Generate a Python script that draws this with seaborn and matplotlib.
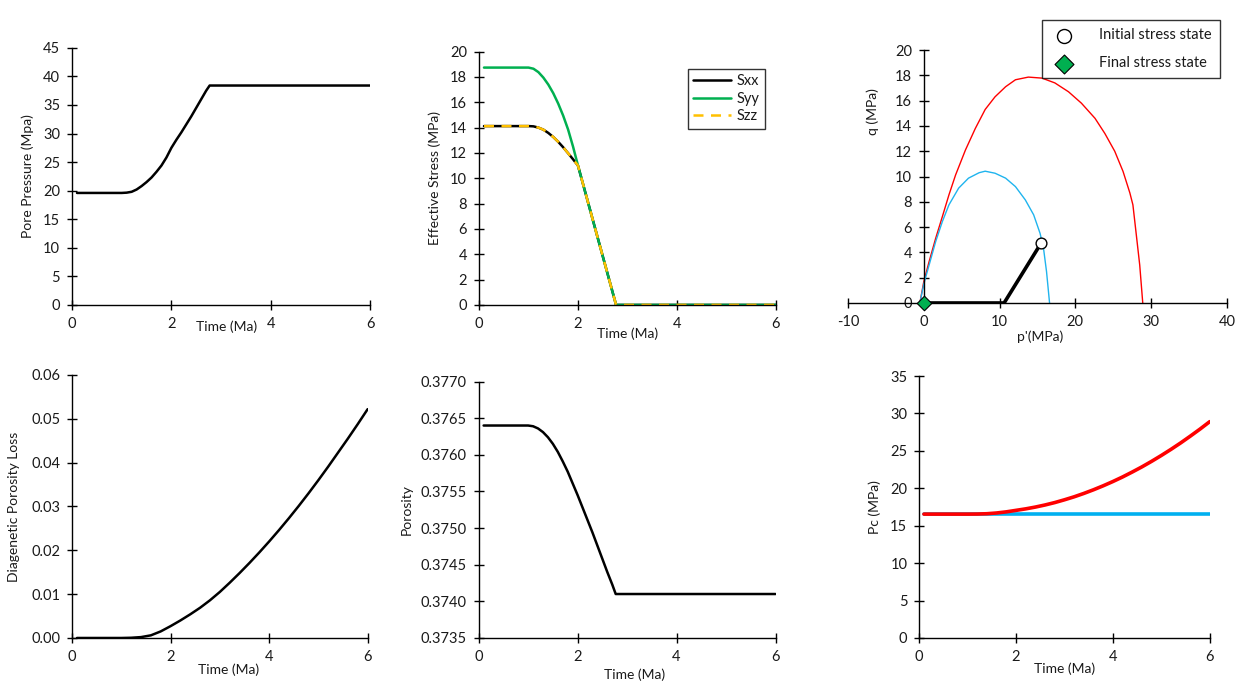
import numpy as np
import pandas as pd
import seaborn as sns
import matplotlib.pyplot as plt
from matplotlib.ticker import FormatStrFormatter

# ---------------- data ----------------
t_pp = [0.1, 0.5, 1.0, 1.1, 1.2, 1.3, 1.4, 1.5, 1.6, 1.7, 1.8, 1.9, 2.0, 2.1, 2.2,
        2.3, 2.4, 2.5, 2.6, 2.7, 2.77, 3.0, 4.0, 5.0, 6.0]
pore_pressure = [19.6, 19.6, 19.6, 19.65, 19.8, 20.2, 20.8, 21.5, 22.3, 23.3, 24.4,
                 25.8, 27.5, 28.9, 30.2, 31.6, 33.0, 34.5, 36.0, 37.5, 38.4, 38.4,
                 38.4, 38.4, 38.4]

t_es = [0.1, 0.5, 1.0, 1.1, 1.2, 1.3, 1.4, 1.5, 1.6, 1.7, 1.8, 1.9, 2.0, 2.2, 2.4,
        2.6, 2.77, 3.0, 4.0, 5.0, 6.0]
sxx = [14.12, 14.12, 14.12, 14.1, 14.0, 13.84, 13.58, 13.26, 12.88, 12.45, 11.98,
       11.5, 11.0, 8.14, 5.28, 2.43, 0.0, 0.0, 0.0, 0.0, 0.0]
syy = [18.74, 18.74, 18.74, 18.65, 18.38, 17.95, 17.4, 16.72, 15.9, 14.95, 13.85,
       12.5, 11.0, 8.14, 5.28, 2.43, 0.0, 0.0, 0.0, 0.0, 0.0]
szz = [14.12, 14.12, 14.12, 14.1, 14.0, 13.84, 13.58, 13.26, 12.88, 12.45, 11.98,
       11.5, 11.0, 8.14, 5.28, 2.43, 0.0, 0.0, 0.0, 0.0, 0.0]

p_red = [-0.52, 0.0, 0.7, 1.57, 2.45, 3.32, 4.2, 5.5, 6.8, 8.1, 9.4, 10.8, 12.1,
         13.8, 15.6, 17.3, 19.1, 20.8, 22.6, 23.9, 25.2, 26.3, 27.2, 27.6, 28.0,
         28.5, 28.9]
q_red = [0.0, 1.69, 3.27, 5.12, 6.83, 8.55, 10.13, 12.1, 13.8, 15.3, 16.3, 17.1,
         17.65, 17.86, 17.78, 17.4, 16.7, 15.8, 14.6, 13.4, 12.0, 10.4, 8.7, 7.76,
         5.65, 3.0, 0.0]
p_blue = [-0.52, 0.0, 0.7, 1.57, 2.45, 3.32, 4.6, 5.9, 7.3, 8.1, 9.4, 10.8, 12.1,
          13.4, 14.5, 15.35, 15.8, 16.2, 16.6]
q_blue = [0.0, 1.5, 3.0, 4.86, 6.44, 7.76, 9.08, 9.87, 10.3, 10.42, 10.26, 9.87,
          9.2, 8.15, 6.97, 5.5, 4.33, 2.48, 0.0]
p_path = [0.0, 10.6, 15.5]
q_path = [0.0, 0.0, 4.75]
p_initial, q_initial = [15.5], [4.75]
p_final, q_final = [0.0], [0.0]

t_dpl = [0.1, 0.5, 1.0, 1.2, 1.4, 1.6, 1.8, 2.0, 2.2, 2.4, 2.6, 2.8, 3.0, 3.2, 3.4,
         3.6, 3.8, 4.0, 4.2, 4.4, 4.6, 4.8, 5.0, 5.2, 5.4, 5.6, 5.8, 6.0]
diag_loss = [0.0, 0.0, 0.0, 0.00005, 0.0002, 0.0006, 0.0015, 0.0027, 0.0040, 0.0054,
             0.0069, 0.0086, 0.0105, 0.0126, 0.0148, 0.0171, 0.0195, 0.0220, 0.0246,
             0.0273, 0.0301, 0.0330, 0.0360, 0.0391, 0.0423, 0.0455, 0.0488, 0.0522]

t_por = [0.1, 0.5, 1.0, 1.1, 1.2, 1.3, 1.4, 1.5, 1.6, 1.7, 1.8, 1.9, 2.0, 2.1, 2.2,
         2.3, 2.4, 2.5, 2.6, 2.7, 2.77, 3.0, 4.0, 5.0, 6.0]
porosity = [0.3764, 0.3764, 0.3764, 0.37639, 0.37636, 0.37631, 0.37624, 0.37615,
            0.37604, 0.37591, 0.37577, 0.37561, 0.37545, 0.37528, 0.37511, 0.37494,
            0.37476, 0.37458, 0.37440, 0.37423, 0.3741, 0.3741, 0.3741, 0.3741, 0.3741]

t_pc = [0.1, 0.5, 1.0, 1.2, 1.4, 1.6, 1.8, 2.0, 2.2, 2.4, 2.6, 2.8, 3.0, 3.2, 3.4,
        3.6, 3.8, 4.0, 4.2, 4.4, 4.6, 4.8, 5.0, 5.2, 5.4, 5.6, 5.8, 6.0]
pc_red = [16.55, 16.55, 16.55, 16.56, 16.6, 16.7, 16.85, 17.05, 17.25, 17.49, 17.77,
          18.09, 18.46, 18.86, 19.31, 19.80, 20.33, 20.90, 21.51, 22.17, 22.86, 23.60,
          24.38, 25.20, 26.06, 26.97, 27.91, 28.90]
pc_blue = [16.55] * len(t_pc)

# ---------------- style ----------------
sns.set_style("white")
plt.rcParams['font.family'] = ['Lato', 'DejaVu Sans']
plt.rcParams['axes.unicode_minus'] = False
TXT = '#1a1a1a'

fig = plt.figure(figsize=(12.42, 6.93), dpi=100)


def style(ax):
    for s in ['top', 'right']:
        ax.spines[s].set_visible(False)
    for s in ['left', 'bottom']:
        ax.spines[s].set_color('black')
        ax.spines[s].set_linewidth(1.0)
    ax.tick_params(direction='inout', length=7, width=1, color='black',
                   labelsize=10.5, labelcolor=TXT, pad=5, left=True, bottom=True)
    ax.grid(False)


def labels(ax, xl, yl, xpos, ypos):
    ax.set_xlabel(xl, fontsize=10, color=TXT)
    ax.set_ylabel(yl, fontsize=10, color=TXT)
    ax.xaxis.set_label_coords(*xpos)
    ax.yaxis.set_label_coords(*ypos)


# Panel 1: pore pressure
ax1 = fig.add_axes([0.058, 0.560, 0.240, 0.371])
sns.lineplot(x=t_pp, y=pore_pressure, ax=ax1, color='black', lw=1.8,
             sort=False, estimator=None)
ax1.set_xlim(0, 6); ax1.set_ylim(0, 45)
ax1.set_xticks([0, 2, 4, 6]); ax1.set_yticks(np.arange(0, 46, 5))
style(ax1)
labels(ax1, 'Time (Ma)', 'Pore Pressure (Mpa)', (0.52, -0.062), (-0.128, 0.5))

# Panel 2: effective stress
ax2 = fig.add_axes([0.3857, 0.560, 0.239, 0.3655])
sns.lineplot(x=t_es, y=sxx, ax=ax2, color='black', lw=1.8, sort=False,
             estimator=None, label='Sxx')
sns.lineplot(x=t_es, y=syy, ax=ax2, color='#00B050', lw=1.8, sort=False,
             estimator=None, label='Syy')
sns.lineplot(x=t_es, y=szz, ax=ax2, color='#FFC000', lw=1.8, sort=False,
             estimator=None, label='Szz')
ax2.lines[-1].set_dashes([4, 3])
ax2.set_xlim(0, 6); ax2.set_ylim(0, 20)
ax2.set_xticks([0, 2, 4, 6]); ax2.set_yticks(np.arange(0, 21, 2))
style(ax2)
labels(ax2, 'Time (Ma)', 'Effective Stress (MPa)', (0.50, -0.087), (-0.128, 0.5))
leg2 = ax2.legend(loc='upper right', bbox_to_anchor=(0.987, 0.96), frameon=True,
                  fancybox=False, edgecolor='black', fontsize=10.5,
                  handlelength=2.6, handletextpad=0.4, borderpad=0.35,
                  labelspacing=0.25)
leg2.get_frame().set_linewidth(1.0)
for tx in leg2.get_texts():
    tx.set_color(TXT)

# Panel 3: p'-q
ax3 = fig.add_axes([0.6828, 0.5628, 0.305, 0.365])
sns.lineplot(x=p_red, y=q_red, ax=ax3, color='#FF0000', lw=1.0, sort=False,
             estimator=None)
sns.lineplot(x=p_blue, y=q_blue, ax=ax3, color='#1FB4EE', lw=1.0, sort=False,
             estimator=None)
sns.lineplot(x=p_path, y=q_path, ax=ax3, color='black', lw=2.6, sort=False,
             estimator=None)
sns.scatterplot(x=p_initial, y=q_initial, ax=ax3, marker='o', s=60,
                facecolor='white', edgecolor='black', linewidth=1.0,
                label='Initial stress state', zorder=5)
sns.scatterplot(x=p_final, y=q_final, ax=ax3, marker='D', s=55,
                facecolor='#00B050', edgecolor='black', linewidth=0.8,
                label='Final stress state', zorder=5, clip_on=False)
ax3.set_xlim(-10, 40); ax3.set_ylim(0, 20)
ax3.set_xticks(np.arange(-10, 41, 10)); ax3.set_yticks(np.arange(0, 21, 2))
style(ax3)
ax3.spines['left'].set_position(('data', 0))
labels(ax3, "p'(MPa)", 'q (MPa)', (0.507, -0.107), (0.082, 0.755))
for c in ax3.collections:
    c.set_clip_on(False)
leg3 = ax3.legend(loc='upper right', bbox_to_anchor=(0.988, 0.981),
                  bbox_transform=fig.transFigure, frameon=True, fancybox=False,
                  edgecolor='black', fontsize=10.5, handlelength=2.0,
                  handletextpad=1.4, borderpad=0.55, labelspacing=0.95,
                  markerscale=1.3)
leg3.get_frame().set_linewidth(1.0)
for tx in leg3.get_texts():
    tx.set_color(TXT)

# Panel 4: diagenetic porosity loss
ax4 = fig.add_axes([0.058, 0.0794, 0.238, 0.3795])
sns.lineplot(x=t_dpl, y=diag_loss, ax=ax4, color='black', lw=1.8, sort=False,
             estimator=None)
ax4.set_xlim(0, 6); ax4.set_ylim(0, 0.06)
ax4.set_xticks([0, 2, 4, 6]); ax4.set_yticks(np.arange(0, 0.0601, 0.01))
ax4.yaxis.set_major_formatter(FormatStrFormatter('%.2f'))
style(ax4)
labels(ax4, 'Time (Ma)', 'Diagenetic Porosity Loss', (0.53, -0.095), (-0.176, 0.5))

# Panel 5: porosity
ax5 = fig.add_axes([0.3854, 0.0794, 0.239, 0.370])
sns.lineplot(x=t_por, y=porosity, ax=ax5, color='black', lw=1.8, sort=False,
             estimator=None)
ax5.set_xlim(0, 6); ax5.set_ylim(0.3735, 0.3770)
ax5.set_xticks([0, 2, 4, 6]); ax5.set_yticks(np.arange(0.3735, 0.37701, 0.0005))
ax5.yaxis.set_major_formatter(FormatStrFormatter('%.4f'))
style(ax5)
labels(ax5, 'Time (Ma)', 'Porosity', (0.525, -0.117), (-0.222, 0.5))

# Panel 6: Pc
ax6 = fig.add_axes([0.740, 0.0794, 0.234, 0.378])
sns.lineplot(x=t_pc, y=pc_blue, ax=ax6, color='#00B0F0', lw=2.6, sort=False,
             estimator=None)
sns.lineplot(x=t_pc, y=pc_red, ax=ax6, color='#FF0000', lw=2.6, sort=False,
             estimator=None)
ax6.set_xlim(0, 6); ax6.set_ylim(0, 35)
ax6.set_xticks([0, 2, 4, 6]); ax6.set_yticks(np.arange(0, 36, 5))
style(ax6)
labels(ax6, 'Time (Ma)', 'Pc (MPa)', (0.50, -0.092), (-0.13, 0.5))

fig.savefig('out.png', dpi=100, facecolor='white')
